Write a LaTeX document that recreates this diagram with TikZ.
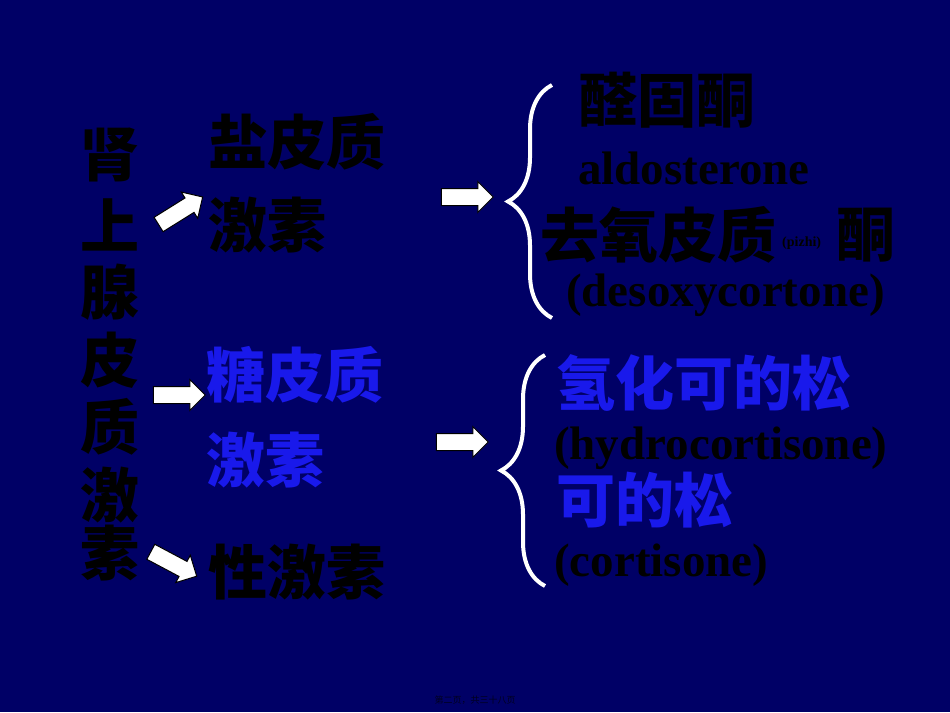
\documentclass[tikz,border=0pt]{standalone}
\usepackage{fontspec}
\setmainfont{Liberation Serif}
\newfontfamily\cjk{Noto Sans CJK SC}
\usetikzlibrary{shapes.arrows,decorations.pathreplacing}
\definecolor{bg}{RGB}{0,0,102}
\definecolor{bl}{RGB}{25,25,235}
\tikzset{
 cn/.style={font=\cjk\bfseries\fontsize{59}{59}\selectfont,text=black,inner sep=0pt},
 en/.style={font=\bfseries\fontsize{47}{47}\selectfont,text=black,inner sep=0pt},
 arr/.style={single arrow,fill=white,draw=black,line width=1pt,minimum width=30pt,minimum height=52pt,single arrow head extend=7pt,inner xsep=0pt,inner ysep=8pt},
 br/.style={draw=white,line width=4pt,decorate,decoration={brace,amplitude=44pt}}
}
\begin{document}
\begin{tikzpicture}[x=1pt,y=-1pt]
\fill[bg] (0,0) rectangle (950,712);
\useasboundingbox (0,0) rectangle (950,712);
\foreach \c/\y [count=\i] in {肾/155,上/225,腺/292,皮/360,质/427,激/495,素/553}
  \node[cn] (v\i) at (110,\y) {\c};
\node[cn,anchor=west] (y1) at (208,142) {盐皮质};
\node[cn,anchor=west] (y2) at (208,225) {激素};
\node[cn,anchor=west,text=bl] (t1) at (206,375) {糖皮质};
\node[cn,anchor=west,text=bl] (t2) at (206,460) {激素};
\node[cn,anchor=west] (x1) at (208,572) {性激素};
\node[arr,rotate=32] (a1) at (177,213) {};
\node[arr] (a2) at (175,395) {};
\node[arr,rotate=-28] (a3) at (170,562) {};
\node[arr] (a4) at (463,197) {};
\node[arr] (a5) at (458,442) {};
\draw[br] (552,318) -- (552,85);
\draw[br] (545,586) -- (545,355);
\node[cn,anchor=west] (r1) at (578,100) {醛固酮};
\node[en,anchor=west] (r2) at (578,168) {aldosterone};
\node[cn,anchor=west] (r3) at (540,235) {去氧皮质};
\node[font=\bfseries\fontsize{14}{14}\selectfont,anchor=west,inner sep=0pt] (r3b) at (782,243) {(pizhi)};
\node[cn,anchor=west] (r3c) at (836,235) {酮};
\node[en,anchor=west] (r4) at (566,295) {(desoxycortone)};
\node[cn,anchor=west,text=bl] (b1) at (556,383) {氢化可的松};
\node[en,anchor=west] (b2) at (554,448) {(hydrocortisone)};
\node[cn,anchor=west,text=bl] (b3) at (556,500) {可的松};
\node[en,anchor=west] (b4) at (554,565) {(cortisone)};
\node[font=\cjk\fontsize{9}{9}\selectfont,text=black!70!bg,inner sep=0pt] (ft) at (475,700) {第二页，共三十八页};
\end{tikzpicture}
\end{document}
